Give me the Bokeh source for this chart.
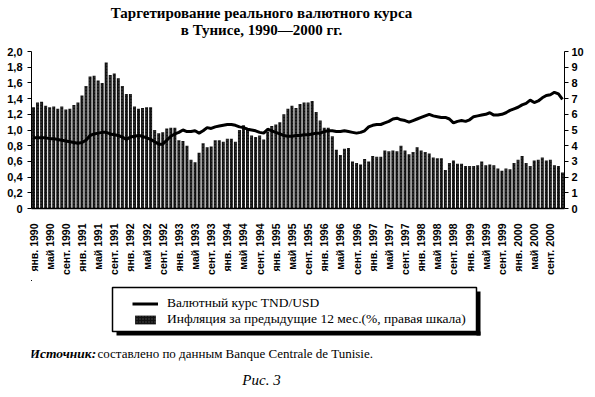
import math
from bokeh.plotting import figure
from bokeh.layouts import column
from bokeh.models import (Range1d, LinearAxis, FixedTicker, Legend, LegendItem,
                          Label, BoxAnnotation)
from bokeh.embed import file_html
from bokeh.resources import INLINE

# ---- data (monthly, Jan 1990 .. Dec 2000) ----
inflation = [
    6.45, 6.75, 6.8, 6.55, 6.45, 6.5, 6.35, 6.5, 6.3, 6.35, 6.6, 6.75,
    7.2, 7.8, 8.4, 8.45, 8.15, 8.0, 9.3, 8.5, 8.6, 8.3, 7.8, 7.3,
    7.3, 6.5, 6.35, 6.4, 6.45, 6.45, 5.0, 4.8, 4.85, 5.1, 5.15, 5.15,
    4.35, 4.3, 4.0, 3.1, 2.95, 3.55, 4.15, 3.9, 3.95, 4.35, 4.35, 4.25,
    4.45, 4.45, 4.25, 5.0, 5.3, 5.0, 4.65, 4.55, 4.65, 4.4, 4.9, 5.25,
    5.35, 5.5, 6.0, 6.35, 6.55, 6.4, 6.65, 6.75, 6.75, 6.85, 6.15, 5.6,
    5.15, 5.15, 4.6, 3.75, 3.4, 3.8, 3.85, 3.0, 2.9, 2.8, 3.15, 3.0,
    3.35, 3.3, 3.3, 3.7, 3.65, 3.7, 3.65, 4.0, 3.7, 3.45, 3.6, 3.9,
    3.7, 3.6, 3.5, 3.25, 3.2, 3.2, 2.45, 2.9, 3.05, 2.85, 2.85, 2.7,
    2.7, 2.7, 2.75, 3.0, 2.75, 2.8, 2.75, 2.55, 2.4, 2.55, 2.5, 2.9,
    3.1, 3.35, 2.9, 2.7, 3.05, 3.1, 3.25, 3.05, 3.1, 2.75, 2.7, 2.3,
]
rate = [
    0.90, 0.90, 0.90, 0.90, 0.89, 0.89, 0.88, 0.87, 0.86, 0.85, 0.84, 0.83,
    0.84, 0.87, 0.93, 0.95, 0.96, 0.97, 0.97, 0.95, 0.94, 0.93, 0.91, 0.88,
    0.91, 0.92, 0.93, 0.92, 0.90, 0.88, 0.85, 0.82, 0.82, 0.87, 0.92, 0.95,
    0.97, 1.00, 0.98, 0.98, 0.99, 0.96, 0.99, 1.03, 1.02, 1.04, 1.05, 1.06,
    1.07, 1.07, 1.06, 1.04, 1.03, 1.01, 1.00, 0.99, 0.97, 0.96, 1.01, 0.99,
    0.97, 0.95, 0.93, 0.92, 0.92, 0.93, 0.93, 0.94, 0.94, 0.95, 0.96, 0.96,
    0.98, 0.99, 0.99, 0.98, 0.98, 0.99, 0.98, 0.97, 0.96, 0.97, 0.99, 1.04,
    1.06, 1.07, 1.07, 1.09, 1.11, 1.14, 1.15, 1.13, 1.12, 1.10, 1.12, 1.14,
    1.16, 1.18, 1.20, 1.18, 1.17, 1.16, 1.16, 1.14, 1.09, 1.11, 1.12, 1.11,
    1.13, 1.17, 1.18, 1.19, 1.20, 1.22, 1.19, 1.19, 1.20, 1.22, 1.25, 1.27,
    1.29, 1.32, 1.34, 1.38, 1.35, 1.37, 1.41, 1.44, 1.45, 1.48, 1.46, 1.39,
]
months = list(range(len(inflation)))
month_names = ["янв.", "май", "сент."]
years = list(range(1990, 2001))
tick_labels = [f"{m} {y}" for y in years for m in month_names]
left_ticks = [0, 0.2, 0.4, 0.6, 0.8, 1.0, 1.2, 1.4, 1.6, 1.8, 2.0]
left_labels = ["0", "0,2", "0,4", "0,6", "0,8", "1,0", "1,2", "1,4", "1,6", "1,8", "2,0"]
right_ticks = [0, 1, 2, 3, 4, 5, 6, 7, 8, 9, 10]

title1 = "Таргетирование реального валютного курса"
title2 = "в Тунисе, 1990—2000 гг."
leg_rate = "Валютный курс TND/USD"
leg_infl = "Инфляция за предыдущие 12 мес.(%, правая шкала)"
src_head = "Источник:"
src_body = "составлено по данным Banque Centrale de Tunisie."
fig_caption = "Рис. 3"

assert len(rate) == len(inflation) == 132

# ---- layout constants (page pixels) ----
W = 594
FL, FR = 31, 564            # plot frame left / right
Y_TOP, Y_CHART, Y_BOT, Y_END = 0, 45, 280, 390
SANS = "Liberation Sans"
SERIF = "Liberation Serif"
BAR_STYLE = dict(fill_color="#111111", line_color=None, hatch_pattern="dot",
                 hatch_color="white", hatch_scale=3, hatch_weight=0.6, hatch_alpha=0.25)


def blank(y0, y1):
    f = figure(width=W, height=y1 - y0, output_backend="svg", toolbar_location=None,
               x_range=Range1d(FL, FR), y_range=Range1d(y1, y0),
               x_axis_type=None, y_axis_type=None, outline_line_color=None,
               min_border_left=FL, min_border_right=W - FR, min_border_top=0,
               min_border_bottom=0, background_fill_color="white",
               border_fill_color="white")
    f.grid.visible = False
    return f


# ---- title ----
top = blank(Y_TOP, Y_CHART)
for txt, yy in ((title1, 12.5), (title2, 29.5)):
    top.add_layout(Label(x=261, y=yy, text=txt, text_align="center",
                         text_baseline="middle", text_font=SERIF,
                         text_font_style="bold", text_font_size="15px",
                         text_color="black"))

# ---- chart ----
p = figure(width=W, height=Y_BOT - Y_CHART, output_backend="svg", toolbar_location=None,
           x_range=Range1d(-0.5, len(months) - 0.5), y_range=Range1d(0, 2.0),
           min_border_left=FL, min_border_right=W - FR, min_border_top=51 - Y_CHART,
           min_border_bottom=Y_BOT - 208, outline_line_color=None,
           background_fill_color="white", border_fill_color="white")
p.extra_y_ranges = {"infl": Range1d(0, 10)}
p.xgrid.visible = False
p.ygrid.visible = False

bars = p.vbar(x=months, top=inflation, width=0.74, y_range_name="infl", **BAR_STYLE)
line = p.line(months, rate, line_width=3, line_color="black")

xa = p.xaxis[0]
xa.ticker = FixedTicker(ticks=[4 * k for k in range(len(tick_labels))])
xa.major_label_overrides = {4 * k: t for k, t in enumerate(tick_labels)}
xa.major_label_orientation = math.pi / 2
xa.major_tick_line_color = None
xa.minor_tick_line_color = None
xa.major_label_standoff = 9
xa.major_label_text_font = SANS
xa.major_label_text_font_style = "bold"
xa.major_label_text_font_size = "10.5px"
xa.major_label_text_color = "black"
xa.axis_line_width = 1.5

ya = p.yaxis[0]
ya.ticker = FixedTicker(ticks=left_ticks)
ya.major_label_overrides = dict(zip(left_ticks, left_labels))
ya.minor_tick_line_color = None
ya.major_tick_in = 0
ya.major_tick_out = 4
ya.major_label_standoff = 5
ya.major_label_text_font = SANS
ya.major_label_text_font_style = "bold"
ya.major_label_text_font_size = "11px"
ya.major_label_text_color = "black"

ra = LinearAxis(y_range_name="infl", ticker=FixedTicker(ticks=right_ticks))
ra.minor_tick_line_color = None
ra.major_tick_in = 0
ra.major_tick_out = 4
ra.major_label_standoff = 3
ra.major_label_text_font = SANS
ra.major_label_text_font_style = "bold"
ra.major_label_text_font_size = "11px"
ra.major_label_text_color = "black"
p.add_layout(ra, "right")

# ---- legend, source, caption ----
bot = blank(Y_BOT, Y_END)
bot.extra_x_ranges = {"off": Range1d(1000, 2000)}   # keeps legend proxies out of view
line_proxy = bot.line(x=months, y=rate, x_range_name="off",
                      line_width=3, line_color="black")
bar_proxy = bot.vbar(x=months, top=inflation, width=0.74, x_range_name="off", **BAR_STYLE)

BX0, BX1, BY0, BY1 = 112, 476, 287, 331     # legend frame (page px)
SW = 4                                       # shadow thickness
bot.add_layout(BoxAnnotation(left=BX1, right=BX1 + SW, top=BY0 + SW, bottom=BY1 + SW,
                             fill_color="black", fill_alpha=1, line_color=None))
bot.add_layout(BoxAnnotation(left=BX0 + SW, right=BX1 + SW, top=BY1, bottom=BY1 + SW,
                             fill_color="black", fill_alpha=1, line_color=None))
bot.add_layout(BoxAnnotation(left=BX0, right=BX1, top=BY0, bottom=BY1,
                             fill_color="white", fill_alpha=1,
                             line_color="black", line_width=1.5, line_alpha=1))

legend = Legend(items=[LegendItem(label=leg_rate, renderers=[line_proxy]),
                       LegendItem(label=leg_infl, renderers=[bar_proxy])],
                location=(132 - FL, Y_END - 327), orientation="vertical",
                label_text_font=SERIF, label_text_font_size="13.5px",
                label_text_color="black", label_height=13, glyph_height=11,
                glyph_width=26, label_standoff=9, padding=8, spacing=0,
                margin=0, border_line_color=None, background_fill_alpha=0.0)
bot.add_layout(legend, "center")

bot.add_layout(Label(x=29, y=353, text=src_head, text_baseline="middle",
                     text_font=SERIF, text_font_style="bold italic",
                     text_font_size="13.5px", text_color="black"))
bot.add_layout(Label(x=97, y=353, text=src_body, text_baseline="middle",
                     text_font=SERIF, text_font_size="13px", text_color="black"))
bot.add_layout(Label(x=261, y=379, text=fig_caption, text_align="center",
                     text_baseline="middle", text_font=SERIF,
                     text_font_style="italic", text_font_size="15px",
                     text_color="black"))

layout = column(top, p, bot, spacing=0)
open("out.html", "w").write(file_html(layout, INLINE))
